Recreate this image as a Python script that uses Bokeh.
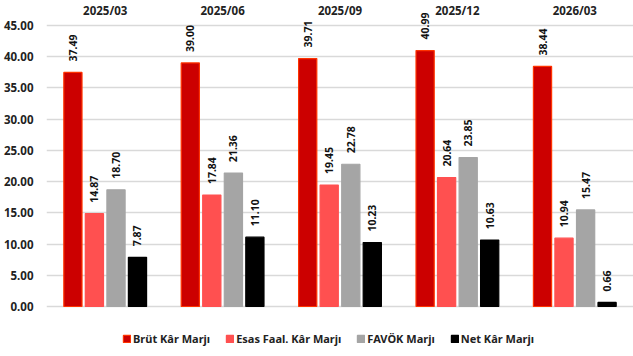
from bokeh.plotting import figure
from bokeh.models import (ColumnDataSource, FactorRange, Range1d, LabelSet, Legend,
                          LegendItem, FixedTicker, NumeralTickFormatter)
from bokeh.core.properties import value
from bokeh.transform import dodge
from bokeh.embed import file_html
from bokeh.resources import INLINE

# Quarterly margins (%)
periods = ["2025/03", "2025/06", "2025/09", "2025/12", "2026/03"]
brut_kar = [37.49, 39.00, 39.71, 40.99, 38.44]
esas_faal = [14.87, 17.84, 19.45, 20.64, 10.94]
favok = [18.70, 21.36, 22.78, 23.85, 15.47]
net_kar = [7.87, 11.10, 10.23, 10.63, 0.66]
y_ticks = [0, 5, 10, 15, 20, 25, 30, 35, 40, 45]

series_names = ["Brüt Kâr Marjı", "Esas Faal. Kâr Marjı", "FAVÖK Marjı", "Net Kâr Marjı"]
series_values = [brut_kar, esas_faal, favok, net_kar]
fills = ["#CC0000", "#FF5050", "#A5A5A5", "#000000"]
outlines = ["#FF3300", "#FF5050", "#A5A5A5", "#000000"]
offsets = [-0.275, -0.092, 0.092, 0.275]

FONT = "Noto Sans"
W, H = 633, 356
LEFT = 45                      # width of the y-axis panel
TOP_PX, ZERO_PX = 25, 306      # screen rows of the 45 and 0 grid lines
px_per_unit = (ZERO_PX - TOP_PX) / 45.0
y_top = 45 + TOP_PX / px_per_unit
y_bottom = -(H - ZERO_PX) / px_per_unit
period_label_y = 45 + (TOP_PX - 10) / px_per_unit

p = figure(width=W, height=H, x_range=FactorRange(*periods, range_padding=0),
           y_range=Range1d(y_bottom, y_top), output_backend="svg", toolbar_location=None,
           x_axis_location=None, min_border_left=LEFT, min_border_right=0,
           min_border_top=0, min_border_bottom=0)
p.outline_line_color = None
p.background_fill_color = "white"
p.border_fill_color = "white"

p.xgrid.grid_line_color = None
p.ygrid.grid_line_color = "#D9D9D9"
p.ygrid.grid_line_width = 1.5

p.yaxis.ticker = FixedTicker(ticks=y_ticks)
p.yaxis.formatter = NumeralTickFormatter(format="0.00")
ax = p.yaxis[0]
ax.axis_line_color = None
ax.major_tick_line_color = None
ax.minor_tick_line_color = None
ax.major_label_text_font = FONT
ax.major_label_text_font_style = "bold"
ax.major_label_text_font_size = "11.5px"
ax.major_label_text_color = "#222222"
ax.major_label_standoff = 7

# period names along the top
p.text(x=periods, y=[period_label_y] * len(periods), text=periods,
       text_align="center", text_baseline="middle", text_font=value(FONT),
       text_font_style="bold", text_font_size="11.5px", text_color="#222222")

items = []
for name, vals, fc, lc, off in zip(series_names, series_values, fills, outlines, offsets):
    src = ColumnDataSource(dict(period=periods, value=vals,
                                label=[f"{v:.2f}" for v in vals]))
    r = p.vbar(x=dodge("period", off, range=p.x_range), top="value", width=0.155,
               source=src, fill_color=fc, line_color=lc, line_width=1.2)
    items.append(LegendItem(label=name, renderers=[r]))
    labels = LabelSet(x=dodge("period", off, range=p.x_range), y="value", text="label",
                      source=src, angle=1.5708, text_align="left", text_baseline="middle",
                      y_offset=11, text_font=value(FONT), text_font_style="bold",
                      text_font_size="10.5px", text_color="#111111")
    p.add_layout(labels)

legend = Legend(items=items, orientation="horizontal", location=(76, 10),
                glyph_width=9, glyph_height=9, label_text_font=FONT,
                label_text_font_style="bold", label_text_font_size="11px",
                label_text_color="#222222", spacing=15, label_standoff=2,
                border_line_color=None, background_fill_alpha=0, padding=2, margin=0)
p.add_layout(legend)

open("out.html", "w").write(file_html(p, INLINE))
